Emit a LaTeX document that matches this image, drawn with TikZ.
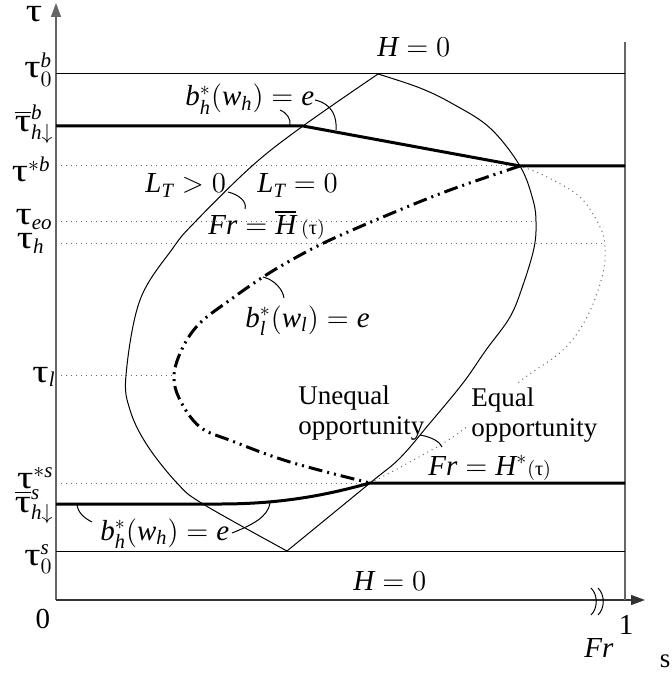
\documentclass[tikz,border=0pt]{standalone}
\usepackage{amsmath}
\usepackage{graphicx}
\usepackage{fontspec}
\setmainfont{Liberation Serif}
\usetikzlibrary{arrows.meta,calc}

\newcommand{\tauup}{\text{τ}}
\newcommand{\taub}{\text{\scalebox{1.35}[1.1]{τ}}}
\newcommand{\mi}[1]{\mathit{#1}}

\tikzset{
  thinln/.style={line width=0.5pt},
  boldln/.style={line width=1.5pt},
  lvl/.style={dotted,black!60,line width=0.5pt},
  axln/.style={black!60,line width=0.6pt},
  ptr/.style={line width=0.5pt},
  mlab/.style={font=\fontsize{14.5}{16}\selectfont,inner sep=0pt},
  tlab/.style={font=\fontsize{13.5}{15}\selectfont,align=left,inner sep=1pt},
  taulab/.style={font=\fontsize{15}{17}\selectfont,inner sep=0pt},
}

\begin{document}
\begin{tikzpicture}[x=0.5pt,y=-0.5pt]
  \useasboundingbox (0,0) rectangle (671,673);

  % ------- 軸 -------
  \coordinate (O) at (56,600);
  \coordinate (ytop) at (56,3);
  \coordinate (xend) at (645,600);
  \draw[axln,-{Triangle[length=7pt,width=5pt]}] (O) -- (ytop);
  \draw[black!80,line width=0.6pt,-{Triangle[length=7pt,width=5pt]}] (O) -- (xend);
  \draw[axln] (625,42) -- (625,600);
  \draw[thinln] (591,588) .. controls (598,595) and (598,608) .. (591,615);
  \draw[thinln] (598,588) .. controls (605,595) and (605,608) .. (598,615);

  % ------- 水平線 -------
  \draw[thinln] (56,74) -- (625,74);                   % tau_0^b
  \draw[thinln] (56,551) -- (625,551);                 % tau_0^s
  \draw[lvl] (56,166) -- (520,166);                    % tau^{*b}
  \draw[lvl] (56,222) -- (536,222);                    % tau_eo
  \draw[lvl] (56,244) -- (605,244);                    % tau_h
  \draw[lvl] (56,375) -- (174,375);                    % tau_l
  \draw[lvl] (56,483) -- (370,483);                    % tau^{*s}

  % ------- Fr = H-bar(tau) -------
  \draw[thinln] plot[smooth,tension=0.6] coordinates {(287,551) (203,504) (177,483) (147,445)
    (130,410) (126,375) (140,300) (173,248) (195,222) (252,166) (303,126) (378,74)};
  \draw[thinln] plot[smooth,tension=0.6] coordinates {(378,74) (420,88) (453,104) (490,128)
    (520,166) (533,200) (536,222) (534,248) (523,285) (510,317) (486,350) (463,383)
    (430,423) (400,458) (370,483) (287,551)};

  % ------- Fr = H^*(tau)（点線） -------
  \draw[lvl] plot[smooth,tension=0.6] coordinates {(370,483) (408,463) (460,432) (519,382)
    (563,350) (587,317) (602,277) (605,248) (600,227) (580,197) (545,176) (520,166)};

  % ------- b_l^*(w_l)=e（一点鎖線） -------
  \draw[line width=1.5pt,dash pattern=on 7pt off 2.5pt on 1pt off 2.5pt on 1pt off 2.5pt]
    plot[smooth,tension=0.6] coordinates {(520,166) (450,190) (390,214) (330,240) (295,258)
    (263,277) (230,300) (200,323) (183,347) (174,375) (180,400) (200,427) (232,441)
    (290,462) (370,483)};

  % ------- b_h^*(w_h)=e（太線） -------
  \draw[boldln] (56,126) -- (303,126) -- (520,166) -- (625,166);
  \draw[boldln] (56,504) -- (220,504) .. controls (285,504) and (330,494) .. (370,483) -- (625,483);

  % ------- 引き出し線 -------
  \draw[ptr] (280,110) .. controls (287,113) and (291,119) .. (290,125);
  \draw[ptr] (315,100) .. controls (333,104) and (337,118) .. (336,130);
  \draw[ptr] (228,192) .. controls (240,195) and (247,202) .. (245,209);
  \draw[ptr] (263,277) .. controls (275,280) and (283,290) .. (284,298);
  \draw[ptr] (420,435) .. controls (432,437) and (440,442) .. (442,447);
  \draw[ptr] (77,503) .. controls (77,512) and (84,518) .. (92,522);
  \draw[ptr] (270,503) .. controls (268,517) and (252,525) .. (232,533);

  % ------- ラベル -------
  \node[mlab,anchor=base west] (Htop) at (377,57) {$\mi{H}=0$};
  \node[mlab,anchor=base west] (Hbot) at (353,590) {$\mi{H}=0$};
  \node[mlab,anchor=base west] (bhtop) at (185,106) {$\mi{b}_{\mi{h}}^{*}(\mi{w}_{\mi{h}})=\mi{e}$};
  \node[mlab,anchor=base west] (bhbot) at (100,540) {$\mi{b}_{\mi{h}}^{*}(\mi{w}_{\mi{h}})=\mi{e}$};
  \node[mlab,anchor=base west] (LTpos) at (145,193) {$\mi{L}_{\mi{T}}>0$};
  \node[mlab,anchor=base west] (LTzero) at (257,193) {$\mi{L}_{\mi{T}}=0$};
  \node[mlab,anchor=base west] (Hbar) at (208,235) {$\mi{Fr}=\overline{\mi{H}}\,{\scriptstyle(\tauup)}$};
  \node[mlab,anchor=base west] (bl) at (245,327) {$\mi{b}_{\mi{l}}^{*}(\mi{w}_{\mi{l}})=\mi{e}$};
  \node[mlab,anchor=base west] (Hstar) at (428,475) {$\mi{Fr}=\mi{H}^{*}{\scriptstyle(\tauup)}$};
  \node[tlab,anchor=north west] (uneq) at (296,383) {Unequal\\opportunity};
  \node[tlab,anchor=north west,fill=white] (eq) at (469,385) {Equal\\opportunity};

  % ------- 軸ラベル -------
  \node[taulab,anchor=base] (tauax) at (34,22) {$\taub$};
  \node[taulab,anchor=base east] (t0b) at (53,78) {$\taub_0^{\mi{b}}$};
  \node[taulab,anchor=base east] (thb) at (54,132) {$\overline{\taub}_{\mi{h}\downarrow}^{\mi{b}}$};
  \node[taulab,anchor=base east] (tsb) at (51,182) {$\taub^{*\mi{b}}$};
  \node[taulab,anchor=base east] (teo) at (53,225) {$\taub_{\mi{eo}}$};
  \node[taulab,anchor=base east] (th) at (45,249) {$\taub_{\mi{h}}$};
  \node[taulab,anchor=base east] (tl) at (56,382) {$\taub_{\mi{l}}$};
  \node[taulab,anchor=base east] (tss) at (54,488) {$\taub^{*\mi{s}}$};
  \node[taulab,anchor=base east] (ths) at (54,512) {$\overline{\taub}_{\mi{h}\downarrow}^{\mi{s}}$};
  \node[taulab,anchor=base east] (t0s) at (53,565) {$\taub_0^{\mi{s}}$};
  \node[mlab,anchor=center] (zero) at (43,619) {0};
  \node[mlab,anchor=base] (one) at (626,634) {1};
  \node[mlab,anchor=base] (Fr) at (599,657) {\textit{Fr}};
  \node[tlab,anchor=base] (s) at (665,667) {s};

\end{tikzpicture}
\end{document}
